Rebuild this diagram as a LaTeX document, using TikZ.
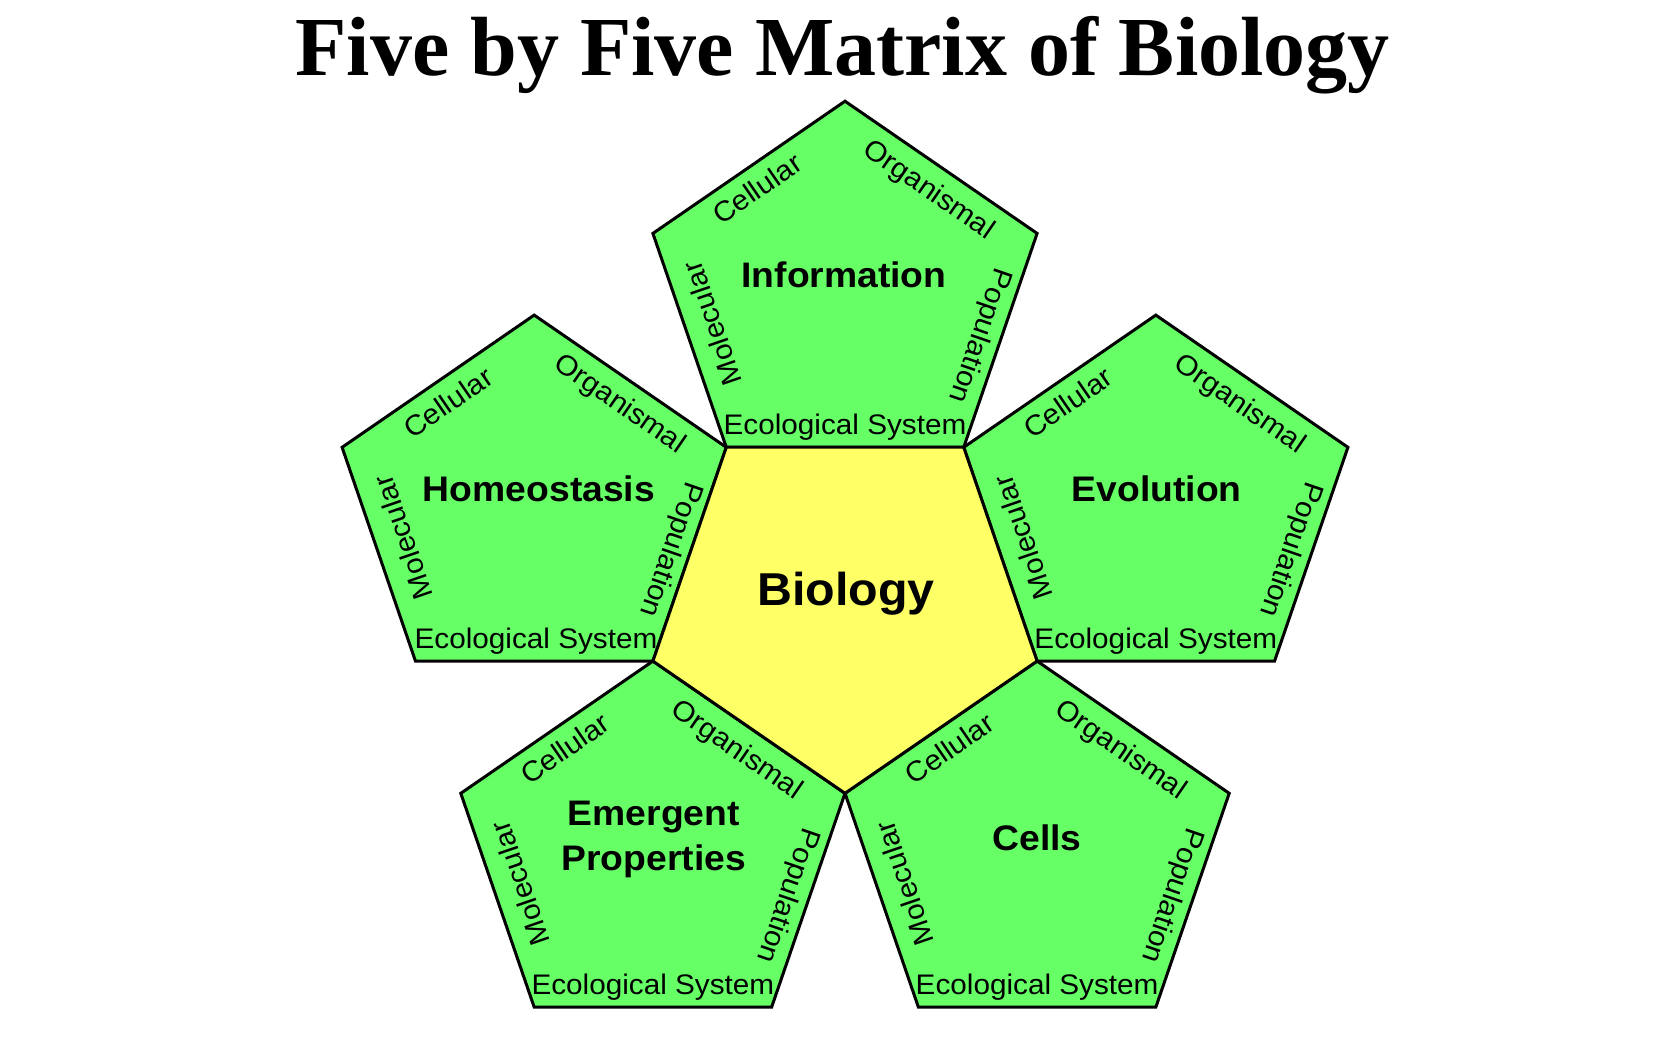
\documentclass[tikz,border=0pt]{standalone}
\usepackage{fontspec}
\newfontfamily\labfont[FakeStretch=1.05]{Liberation Sans}
\newfontfamily\ttlfont{Liberation Serif}
\definecolor{petalgreen}{RGB}{102,255,102}
\definecolor{coreyellow}{RGB}{255,255,102}
\tikzset{
  pentline/.style={draw=black, line width=3pt, line join=miter},
  pics/pentagon/.style={code={\path[pentline, fill=#1] (0,-191.3) -- (192.1,-59.1) -- (118.7,154.8) -- (-118.7,154.8) -- (-192.1,-59.1) -- cycle;}},
  edgelab/.style={font=\labfont\fontsize{28.3}{34}\selectfont, inner sep=0pt, text height=20.3pt, text depth=0pt},
  baselab/.style={font=\labfont\fontsize{28.3}{34}\selectfont, inner sep=0pt, anchor=base},
  petaltitle/.style={font=\labfont\bfseries\fontsize{35.5}{45}\selectfont, inner sep=0pt, align=center},
}
\newcommand{\petallabels}[3]{%
  \begin{scope}[shift={(#2,#3)}]
    \node[edgelab, rotate=34.5] (#1-cel) at (-88,-104) {Cellular};
    \node[edgelab, rotate=-34.5] (#1-org) at (85,-104) {Organismal};
    \node[edgelab, rotate=-108.94] (#1-pop) at (137,44) {Population};
    \node[edgelab, rotate=108.94] (#1-mol) at (-133,31) {Molecular};
    \node[baselab] (#1-eco) at (0,141.8) {Ecological System};
  \end{scope}}
\begin{document}
\begin{tikzpicture}[x=1pt, y=-1pt]
  \useasboundingbox[fill=white] (0,0) rectangle (1680,1050);
  % pentagons
  \pic at (845,292.5) {pentagon=petalgreen};
  \pic at (534.2,506.4) {pentagon=petalgreen};
  \pic at (1155.8,506.4) {pentagon=petalgreen};
  \pic at (652.9,852.4) {pentagon=petalgreen};
  \pic at (1037.1,852.4) {pentagon=petalgreen};
  \pic[rotate=180] at (845,602) {pentagon=coreyellow};
  % title
  \node[font=\ttlfont\bfseries\fontsize{84}{100}\selectfont, inner sep=0pt, anchor=base] (title) at (842.5,75) {Five by Five Matrix of Biology};
  % centre
  \node[font=\labfont\bfseries\fontsize{46.1}{55}\selectfont, inner sep=0pt, anchor=base] (core) at (846,605) {Biology};
  % petal titles
  \node[petaltitle, anchor=base] (info) at (844,287.3) {Information};
  \node[petaltitle, anchor=base] (homeo) at (539,501.7) {Homeostasis};
  \node[petaltitle, anchor=base] (evol) at (1156.7,501.7) {Evolution};
  \node[petaltitle, anchor=north] (emerg) at (653.8,801.3) {Emergent\\Properties};
  \node[petaltitle, anchor=base] (cells) at (1037,850.7) {Cells};
  % edge labels
  \petallabels{info}{845}{292.5}
  \petallabels{homeo}{536}{506.4}
  \petallabels{evol}{1155.8}{506.4}
  \petallabels{emerg}{652.9}{852.4}
  \petallabels{cells}{1037.1}{852.4}
\end{tikzpicture}
\end{document}
